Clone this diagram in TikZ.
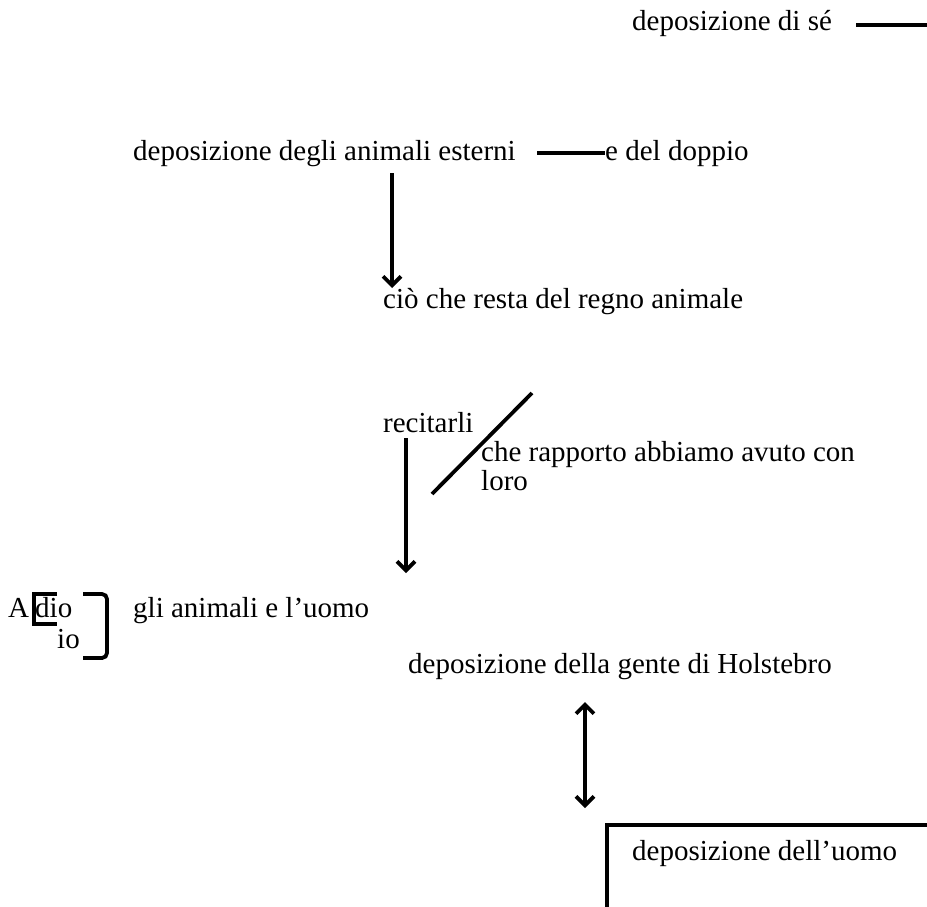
\documentclass[tikz,border=0pt]{standalone}
\usepackage{fontspec}
\setmainfont{Liberation Serif}
\usetikzlibrary{arrows.meta}
\begin{document}
\begin{tikzpicture}[x=1pt,y=-1pt,
  lbl/.style={inner sep=0pt,anchor=base west,font=\fontsize{29}{30}\selectfont},
  rule/.style={line width=3.8pt},
  arr/.style={line width=3.8pt,-{Straight Barb[length=9pt,width=18pt,line width=3.8pt]}},
  darr/.style={line width=3.8pt,{Straight Barb[length=9pt,width=18pt,line width=3.8pt]}-{Straight Barb[length=9pt,width=18pt,line width=3.8pt]}}]
\useasboundingbox (0,0) rectangle (927,907);
% top line
\node[lbl] (se) at (632,31) {deposizione di sé};
\coordinate (seA) at (856,25);
\coordinate (seB) at (927,25);
\draw[rule] (seA) -- (seB);
% animali esterni / doppio
\node[lbl] (est) at (133,160) {deposizione degli animali esterni};
\node[lbl] (dop) at (605,160) {e del doppio};
\coordinate (estA) at (537,153);
\draw[rule] (estA) -- (dop.west |- estA);
% downward arrow
\coordinate (a1s) at (392,173);
\node[lbl] (resta) at (383,308) {ciò che resta del regno animale};
\coordinate (a1e) at (392,288);
\draw[arr] (a1s) -- (a1e);
% recitarli
\node[lbl] (rec) at (383,432) {recitarli};
\node[lbl] (rap1) at (481,461) {che rapporto abbiamo avuto con};
\node[lbl] (rap2) at (481,490) {loro};
\coordinate (dg1) at (432,494);
\coordinate (dg2) at (532,393);
\draw[rule] (dg1) -- (dg2);
\coordinate (a2s) at (406,438);
\coordinate (a2e) at (406,573);
\draw[arr] (a2s) -- (a2e);
% A dio / io
\node[lbl] (A) at (8,617) {A};
\node[lbl] (dio) at (35,617) {dio};
\node[lbl] (io) at (57,648) {io};
\draw[line width=3.8pt] (57,594) -- (34,594) -- (34,624) -- (57,624);
\draw[line width=3.8pt,rounded corners=5pt] (83,594) -- (107,594) -- (107,658) -- (83,658);
\node[lbl] (uomo) at (133,617) {gli animali e l’uomo};
% Holstebro
\node[lbl] (hol) at (408,673) {deposizione della gente di Holstebro};
\coordinate (d1) at (585,702);
\coordinate (d2) at (585,808);
\draw[darr] (d1) -- (d2);
% box
\node[lbl] (du) at (632,860) {deposizione dell’uomo};
\coordinate (bx1) at (607,907);
\coordinate (bx2) at (607,825);
\coordinate (bx3) at (927,825);
\draw[rule] (bx1) -- (bx2) -- (bx3);
\end{tikzpicture}
\end{document}
